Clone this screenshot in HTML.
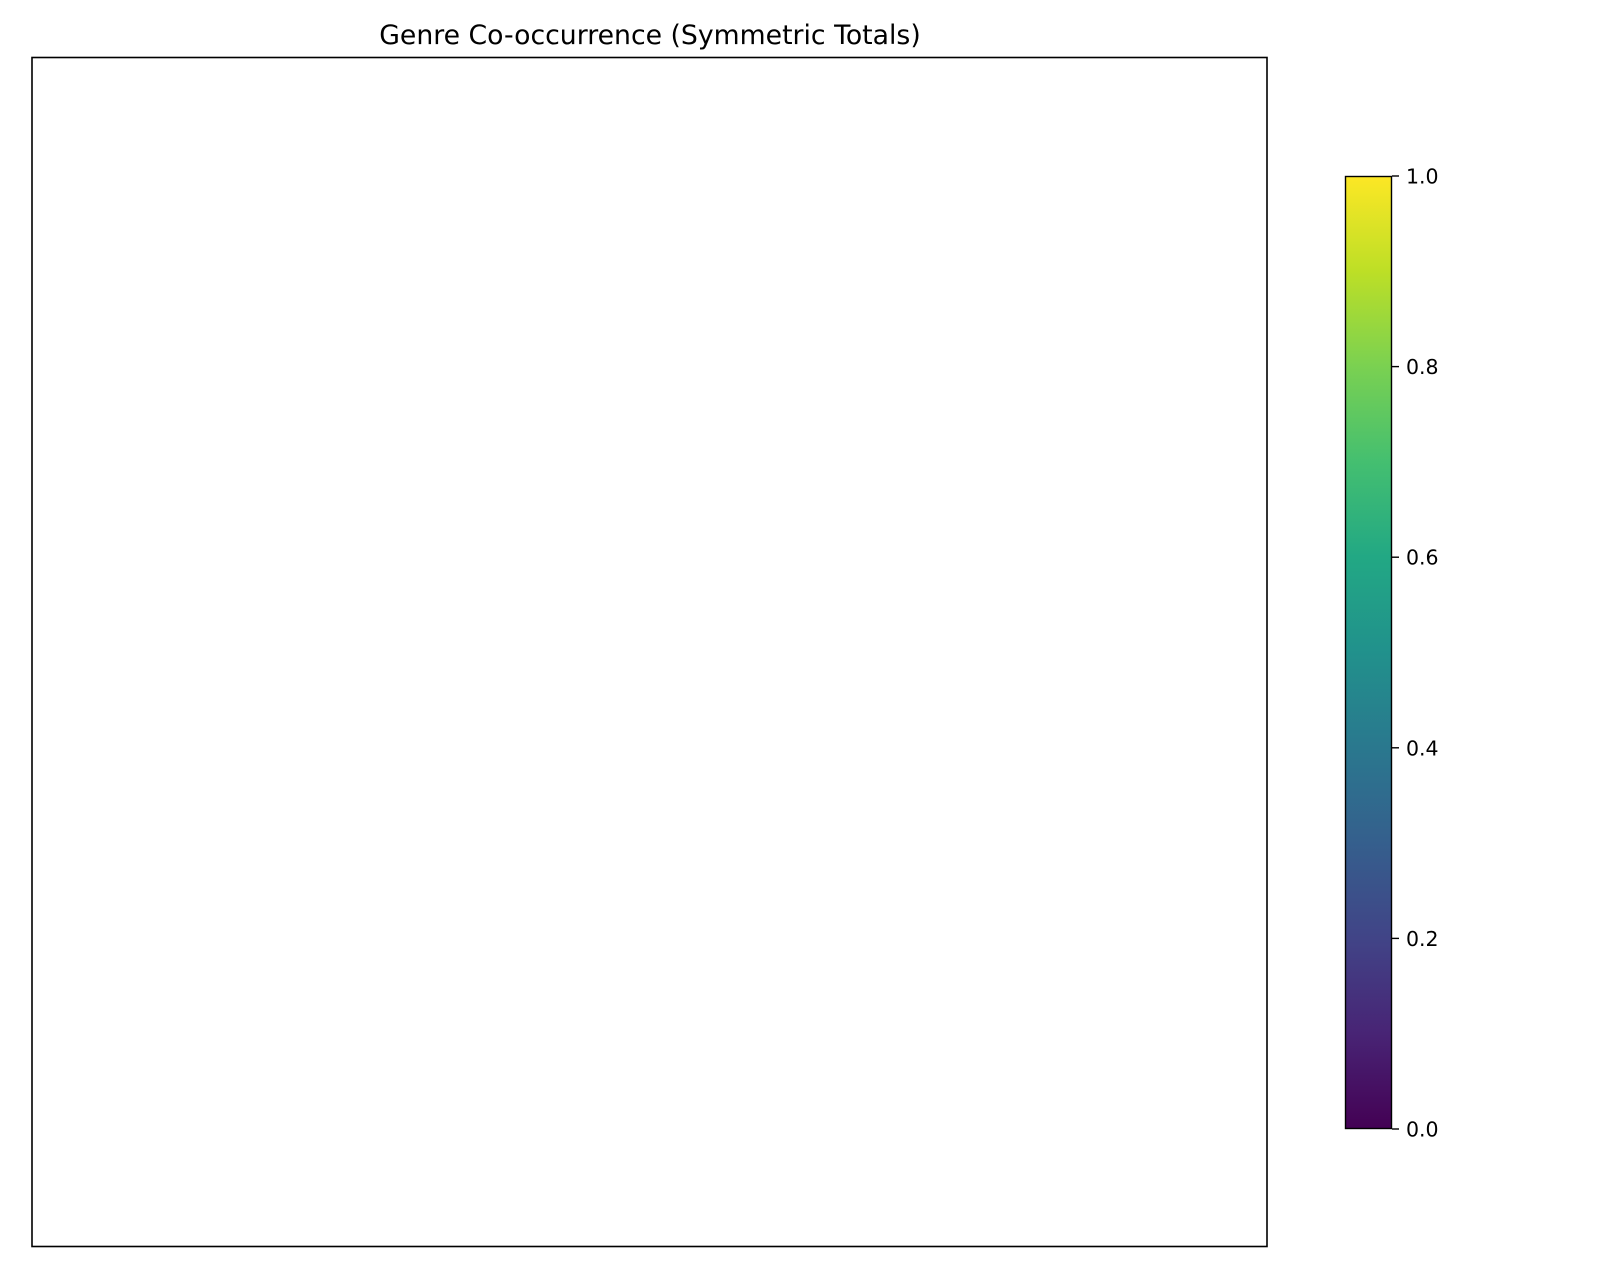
<!DOCTYPE html>
<html>
<head>
<meta charset="utf-8">
<style>
html,body{margin:0;padding:0;background:#fff;}
svg{display:block;font-family:"DejaVu Sans","Liberation Sans",sans-serif;}
</style>
</head>
<body>
<svg id="chart" width="1600" height="1280" viewBox="0 0 1600 1280">
  <defs>
    <linearGradient id="viridis" x1="0" y1="1" x2="0" y2="0">
      <stop offset="0" stop-color="#440154"/>
      <stop offset="0.1" stop-color="#482475"/>
      <stop offset="0.2" stop-color="#414487"/>
      <stop offset="0.3" stop-color="#355f8d"/>
      <stop offset="0.4" stop-color="#2a788e"/>
      <stop offset="0.5" stop-color="#21918c"/>
      <stop offset="0.6" stop-color="#22a884"/>
      <stop offset="0.7" stop-color="#44bf70"/>
      <stop offset="0.8" stop-color="#7ad151"/>
      <stop offset="0.9" stop-color="#bddf26"/>
      <stop offset="1" stop-color="#fde725"/>
    </linearGradient>
  </defs>
  <rect width="1600" height="1280" fill="#fff"/>
  <text x="650" y="44" font-size="26.7" text-anchor="middle" fill="#000">Genre Co-occurrence (Symmetric Totals)</text>
  <g id="cells"></g>
  <rect x="32" y="57.5" width="1235" height="1189" fill="none" stroke="#000" stroke-width="1.6"/>
  <rect x="1345" y="176" width="47" height="953" fill="url(#viridis)"/>
  <rect x="1345.5" y="176.5" width="46" height="952" fill="none" stroke="#000" stroke-width="1.4"/>
  <g id="cbticks"></g>
</svg>
<script>
const categories = [];
const counts = [];
const cbTicks = [0.0, 0.2, 0.4, 0.6, 0.8, 1.0];
const cbMin = 0, cbMax = 1;

const NS = "http://www.w3.org/2000/svg";
const plot = {x: 32, y: 58, w: 1235, h: 1188};
const cb = {x: 1345, y: 176, w: 47, h: 953};
function cbY(v){ return cb.y + cb.h - (v - cbMin) / (cbMax - cbMin) * cb.h; }
function xPos(i){ return plot.x + i * plot.w / Math.max(categories.length, 1); }
function yPos(i){ return plot.y + i * plot.h / Math.max(categories.length, 1); }
const stops = ["#440154","#482475","#414487","#355f8d","#2a788e","#21918c","#22a884","#44bf70","#7ad151","#bddf26","#fde725"];
function color(v){ const t = Math.max(0, Math.min(1, (v - cbMin) / (cbMax - cbMin))); return stops[Math.round(t * 10)]; }

const cellsG = document.getElementById('cells');
for (let r = 0; r < counts.length; r++) {
  for (let c = 0; c < counts[r].length; c++) {
    const rect = document.createElementNS(NS, 'rect');
    rect.setAttribute('x', xPos(c));
    rect.setAttribute('y', yPos(r));
    rect.setAttribute('width', plot.w / categories.length);
    rect.setAttribute('height', plot.h / categories.length);
    rect.setAttribute('fill', color(counts[r][c]));
    
    
    cellsG.appendChild(rect);
  }
}

const tg = document.getElementById('cbticks');
cbTicks.forEach(v => {
  const y = cbY(v);
  const l = document.createElementNS(NS, 'line');
  l.setAttribute('x1', cb.x + cb.w); l.setAttribute('x2', cb.x + cb.w + 7);
  l.setAttribute('y1', y); l.setAttribute('y2', y);
  l.setAttribute('stroke', '#000'); l.setAttribute('stroke-width', '1.4');
  
  
  tg.appendChild(l);
  const t = document.createElementNS(NS, 'text');
  t.setAttribute('x', cb.x + cb.w + 14);
  t.setAttribute('y', y + 7.5);
  t.setAttribute('font-size', '20.5');
  t.textContent = v.toFixed(1);
  
  
  tg.appendChild(t);
});
</script>
</body>
</html>
